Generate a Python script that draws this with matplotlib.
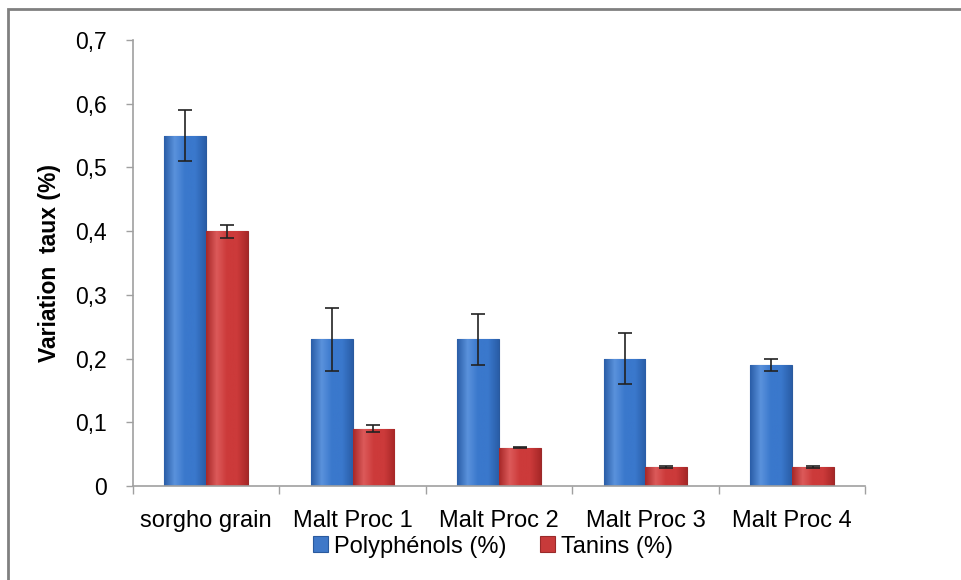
import matplotlib
matplotlib.use("Agg")
import matplotlib.pyplot as plt
import numpy as np
from matplotlib.patches import Rectangle
from matplotlib.colors import LinearSegmentedColormap

categories = ["sorgho grain", "Malt Proc 1", "Malt Proc 2", "Malt Proc 3", "Malt Proc 4"]
poly = [0.55, 0.23, 0.23, 0.20, 0.19]
poly_err = [0.04, 0.05, 0.04, 0.04, 0.01]
tanins = [0.40, 0.09, 0.06, 0.03, 0.03]
tanins_err = [0.01, 0.005, 0.001, 0.002, 0.002]
yticks = [0, 0.1, 0.2, 0.3, 0.4, 0.5, 0.6, 0.7]
ytick_labels = ["0", "0,1", "0,2", "0,3", "0,4", "0,5", "0,6", "0,7"]

plt.rcParams['font.family'] = ['Liberation Sans', 'DejaVu Sans']

fig = plt.figure(figsize=(9.61, 5.8), dpi=100)
ax = fig.add_axes([133/961, 1-486/580, (865-133)/961, (486-40)/580])

x = np.arange(len(categories))
w = 0.285
blue = "#3f78c8"
red = "#c83a3a"
b1 = ax.bar(x - w/2, poly, w, color=blue, edgecolor="#2a5a9e", linewidth=0.8, zorder=2)
b2 = ax.bar(x + w/2, tanins, w, color=red, edgecolor="#9a2a2a", linewidth=0.8, zorder=2)

def shade(bars, dark, mid, light):
    cmap = LinearSegmentedColormap.from_list("g", [dark, light, mid, mid, dark])
    grad = np.linspace(0, 1, 64).reshape(1, -1)
    for b in bars:
        xx, yy = b.get_x(), b.get_y()
        ww, hh = b.get_width(), b.get_height()
        im = ax.imshow(grad, cmap=cmap, aspect="auto",
                       extent=[xx, xx + ww, yy, yy + hh], zorder=2.5)
        im.set_clip_path(b)

shade(b1, "#2a5ea8", "#3a78cc", "#5a92dc")
shade(b2, "#a82828", "#cc3a3a", "#dc5a5a")

ax.errorbar(x - w/2, poly, yerr=poly_err, fmt="none", ecolor="#222222",
            elinewidth=1.2, capsize=5, capthick=1.2, zorder=4)
ax.errorbar(x + w/2, tanins, yerr=tanins_err, fmt="none", ecolor="#222222",
            elinewidth=1.2, capsize=5, capthick=1.2, zorder=4)

ax.set_xlim(-0.5, len(categories) - 0.5)
ax.set_ylim(0, 0.7)
ax.set_yticks(yticks)
ax.set_yticklabels(ytick_labels, fontsize=16.5)
ax.set_xticks(x)
ax.set_xticklabels(categories, fontsize=17)
ax.set_xticks(np.arange(len(categories) + 1) - 0.5, minor=True)
ax.tick_params(axis="x", which="major", length=0, pad=17)
ax.tick_params(axis="x", which="minor", length=6, color="#a0a0a0", width=1)
ax.tick_params(axis="y", length=5, color="#a0a0a0", width=1, pad=14)
for s in ["top", "right"]:
    ax.spines[s].set_visible(False)
for s in ["left", "bottom"]:
    ax.spines[s].set_color("#a0a0a0")
    ax.spines[s].set_linewidth(1.2)

ax.set_ylabel("Variation  taux (%)", fontsize=16.5, fontweight="bold", labelpad=10)

ax.legend([b1, b2], ["Polyphénols (%)", "Tanins (%)"], loc="center",
          bbox_to_anchor=(0.492, -0.136), ncol=2, frameon=False, fontsize=17,
          handlelength=0.65, handleheight=0.65, handletextpad=0.25, columnspacing=1.4,
          borderpad=0)

fig.add_artist(Rectangle((8/961, -0.01), 1.0, 1 - 9/580 + 0.01, transform=fig.transFigure,
                         fill=False, edgecolor="#808080", linewidth=2))

fig.savefig("out.png", dpi=100)
